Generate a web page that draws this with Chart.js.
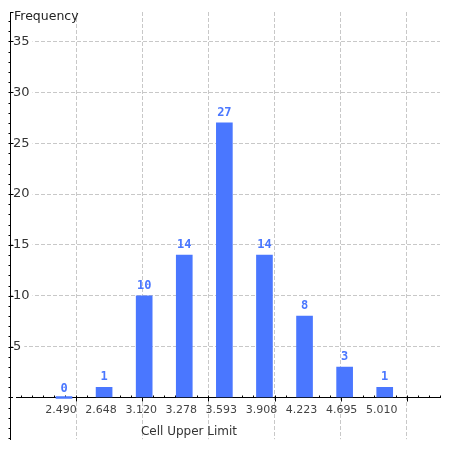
<!DOCTYPE html>
<html>
<head>
<meta charset="utf-8">
<script src="https://cdn.jsdelivr.net/npm/chart.js@4/dist/chart.umd.min.js"></script>
<style>
  body { margin: 0; background: #fff; }
</style>
</head>
<body>
<canvas id="histChart" width="450" height="450"></canvas>
<script>
// Histogram data
const cellLimits = ['2.490', '2.648', '3.120', '3.278', '3.593', '3.908', '4.223', '4.695', '5.010'];
const frequencies = [0, 1, 10, 14, 27, 14, 8, 3, 1];
const yTicks = [5, 10, 15, 20, 25, 30, 35];

const barBlue = '#4a77ff';
const gridGrey = '#c8c8c8';
const clear = 'rgba(0,0,0,0)';

// small axis tick marks (minor + major)
const axisTicks = {
  id: 'axisTicks',
  beforeDatasetsDraw(chart) {
    const { ctx, scales: { xg, y } } = chart;
    const y0 = Math.round(y.getPixelForValue(0)) + 0.5;
    const ax = Math.round(y.right) + 0.5;
    ctx.save();
    ctx.strokeStyle = '#000';
    ctx.lineWidth = 1;
    ctx.beginPath();
    for (let i = 1; i <= 39; i++) {
      const px = Math.round(xg.getPixelForValue(i / 6)) + 0.5;
      ctx.moveTo(px, y0 - 2);
      ctx.lineTo(px, y0 + (i % 6 === 0 ? 4 : 0));
    }
    for (let v = -4; v <= 37; v++) {
      const py = Math.round(y.getPixelForValue(v)) + 0.5;
      ctx.moveTo(ax - 2, py);
      ctx.lineTo(ax + (v % 5 === 0 && v > 0 ? 3 : 0), py);
    }
    const top = Math.round(y.top) + 0.5;
    ctx.moveTo(ax, top);
    ctx.lineTo(ax + 3, top);
    ctx.stroke();
    ctx.restore();
  }
};

// value labels above the bars + axis titles
const barLabels = {
  id: 'barLabels',
  afterDatasetsDraw(chart) {
    const { ctx } = chart;
    const meta = chart.getDatasetMeta(0);
    ctx.save();
    ctx.fillStyle = barBlue;
    ctx.font = 'bold 12px "DejaVu Sans Mono"';
    ctx.textAlign = 'center';
    ctx.textBaseline = 'bottom';
    meta.data.forEach((bar, i) => {
      ctx.fillText(String(frequencies[i]), bar.x, bar.y - 4);
    });
    ctx.fillStyle = '#222';
    ctx.font = '12.5px "DejaVu Sans"';
    ctx.textAlign = 'left';
    ctx.textBaseline = 'middle';
    ctx.fillText('Frequency', 14, 17);
    ctx.fillStyle = '#333';
    ctx.font = '12px "DejaVu Sans"';
    ctx.textAlign = 'center';
    ctx.fillText('Cell Upper Limit', 189, 432);
    ctx.restore();
  }
};

const ctx = document.getElementById('histChart').getContext('2d');
new Chart(ctx, {
  type: 'bar',
  data: {
    datasets: [{
      data: frequencies.map((f, i) => ({ x: i, y: f })),
      backgroundColor: barBlue,
      borderWidth: 0,
      barThickness: 16,
      minBarLength: 2
    }]
  },
  options: {
    responsive: false,
    devicePixelRatio: 1,
    animation: false,
    layout: { padding: { top: 12, right: 10, bottom: 10, left: 0 } },
    plugins: { legend: { display: false }, tooltip: { enabled: false } },
    scales: {
      x: {
        type: 'linear',
        position: { y: 0 },
        offset: false,
        min: -1.347,
        max: 9.379,
        grid: { drawOnChartArea: false, drawTicks: false, offset: false },
        border: { display: true, color: '#000', width: 1 },
        ticks: {
          stepSize: 1,
          autoSkip: false,
          maxRotation: 0,
          padding: 6,
          labelOffset: -3,
          color: '#444',
          font: { family: 'DejaVu Sans', size: 11 },
          callback: v => (Number.isInteger(v) && cellLimits[v] !== undefined) ? cellLimits[v] : ''
        }
      },
      xg: {
        type: 'linear',
        position: { y: 0 },
        offset: false,
        min: 0,
        max: 6.5,
        ticks: { display: false, stepSize: 1 },
        grid: {
          offset: false,
          drawTicks: false,
          color: c => (c.tick && Number.isInteger(c.tick.value) && c.tick.value > 0) ? gridGrey : clear
        },
        border: { display: false, dash: [4, 2] }
      },
      y: {
        position: 'left',
        min: -4.1,
        max: 37.9,
        afterFit: s => { s.width = 10; },
        grid: {
          drawTicks: false,
          color: c => (c.tick && yTicks.includes(c.tick.value)) ? gridGrey : clear
        },
        border: { display: true, color: '#000', width: 1, dash: c => c.tick ? [4, 2] : [] },
        ticks: {
          stepSize: 5,
          mirror: true,
          padding: 3,
          color: '#333',
          font: { family: 'DejaVu Sans', size: 13 },
          showLabelBackdrop: true,
          backdropColor: '#fff',
          backdropPadding: { left: 0, right: 3, top: 0, bottom: 0 },
          callback: v => yTicks.includes(v) ? String(v) : ''
        }
      }
    }
  },
  plugins: [axisTicks, barLabels]
});
</script>
</body>
</html>
